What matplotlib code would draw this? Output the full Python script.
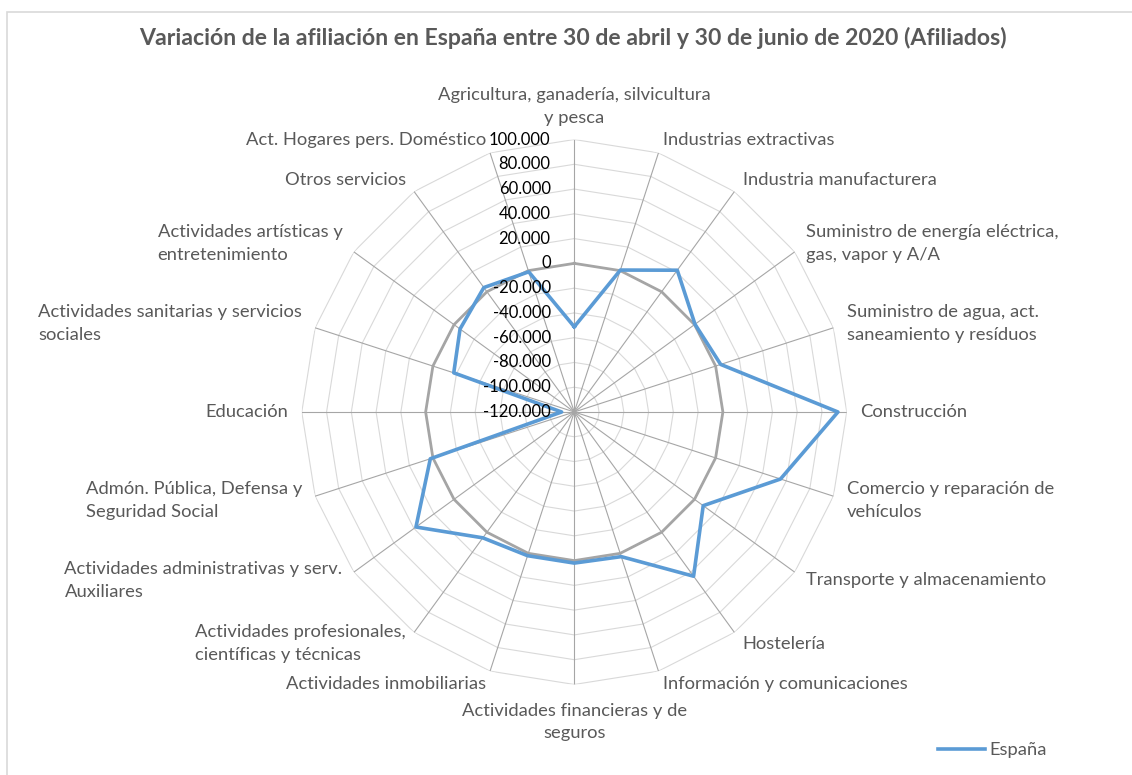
import numpy as np
import matplotlib.pyplot as plt
from matplotlib.patches import Rectangle
from matplotlib.lines import Line2D

categorias = [
    "Agricultura, ganadería, silvicultura\ny pesca",
    "Industrias extractivas",
    "Industria manufacturera",
    "Suministro de energía eléctrica,\ngas, vapor y A/A",
    "Suministro de agua, act.\nsaneamiento y resíduos",
    "Construcción",
    "Comercio y reparación de\nvehículos",
    "Transporte y almacenamiento",
    "Hostelería",
    "Información y comunicaciones",
    "Actividades financieras y de\nseguros",
    "Actividades inmobiliarias",
    "Actividades profesionales,\ncientíficas y técnicas",
    "Actividades administrativas y serv.\nAuxiliares",
    "Admón. Pública, Defensa y\nSeguridad Social",
    "Educación",
    "Actividades sanitarias y servicios\nsociales",
    "Actividades artísticas y\nentretenimiento",
    "Otros servicios",
    "Act. Hogares pers. Doméstico",
]
espana = [-51200, 500, 21500, 500, 4300, 92900, 55100, 8700, 43900, 2800,
          2000, 2000, 5600, 38000, 2200, -109800, -17700, -6000, 4200, -1000]
ticks = list(range(-120000, 100001, 20000))

titulo = "Variación de la afiliación en España entre 30 de abril y 30 de junio de 2020 (Afiliados)"

plt.rcParams['font.family'] = ['Lato', 'DejaVu Sans']

fig = plt.figure(figsize=(11.32, 7.75), dpi=100)
ax = fig.add_axes([0.2666, 0.1168, 0.4814, 0.7032], projection='polar')
ax.set_theta_zero_location('N')
ax.set_theta_direction(-1)
ax.set_ylim(ticks[0], ticks[-1])
ax.grid(False)
ax.set_xticks([])
ax.set_yticks([])
ax.spines['polar'].set_visible(False)
ax.patch.set_visible(False)

n = len(categorias)
ang = np.arange(n) * 2 * np.pi / n
ang_c = np.append(ang, ang[0])

# anillos y radios
for t in ticks[1:]:
    ax.plot(ang_c, [t] * (n + 1), color='#d9d9d9', lw=0.8, zorder=1)
for a in ang:
    ax.plot([a, a], [ticks[0], ticks[-1]], color='#a6a6a6', lw=0.8, zorder=2)
ax.plot(ang_c, [0] * (n + 1), color='#a5a5a5', lw=2.0, zorder=3)
linea, = ax.plot(ang_c, espana + [espana[0]], color='#5b9bd5', lw=2.6, zorder=4)

# etiquetas del eje radial
for t in ticks:
    ax.annotate(f"{t:,}".replace(',', '.'), xy=(0, t), xytext=(-17, 0),
                textcoords='offset points', ha='right', va='center',
                fontsize=12, color='black', zorder=5)

# etiquetas de categorias
for a, lab in zip(ang, categorias):
    s, c = np.sin(a), np.cos(a)
    off = 10
    if abs(s) < 0.01:
        ha, ma = 'center', 'center'
        va = 'bottom' if c > 0 else 'top'
        if c < 0:
            off = 13
    else:
        ha = 'left' if s > 0 else 'right'
        ma, va = 'left', 'center'
    ax.annotate(lab, xy=(a, ticks[-1]), xytext=(off * s, off * c),
                textcoords='offset points', ha=ha, va=va, multialignment=ma,
                fontsize=13.2, color='#595959', linespacing=1.5)

fig.text(0.506, 1 - 38 / 775, titulo, ha='center', va='center',
         fontsize=16.6, fontweight='bold', color='#595959')

fig.legend(handles=[Line2D([], [], color='#5b9bd5', lw=2.6)], labels=['España'],
           loc='center left', bbox_to_anchor=(921 / 1132, 1 - 750 / 775),
           frameon=False, fontsize=13.2, handlelength=2.6, handletextpad=0.25,
           labelcolor='#595959')

fig.add_artist(Rectangle((7 / 1132, -0.1), 1.2, 1.1 - 12 / 775, transform=fig.transFigure,
                         fill=False, edgecolor='#d9d9d9', lw=1.2))

fig.savefig('out.png', dpi=100)
